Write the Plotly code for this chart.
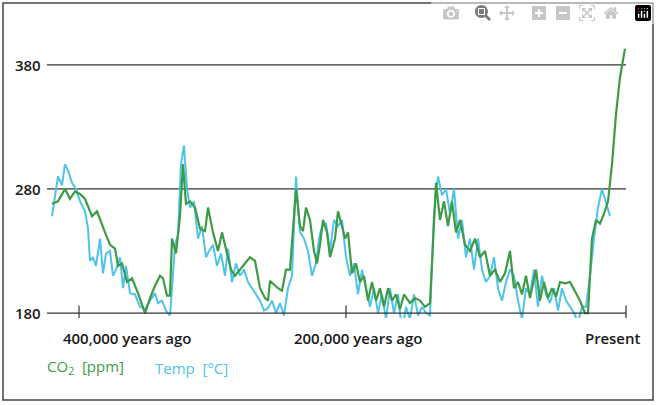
import plotly.graph_objects as go

# pixel readings from the reference: (x pixel, ppm). x pixel -> kyr before present
co2_px = [52,58,65,70,75,80,85,92,97,100,105,110,115,118,122,127,132,138,145,150,155,160,163,167,170,172,176,180,183,186,190,195,200,205,208,213,218,222,226,231,235,240,245,250,255,260,265,268,270,274,278,282,286,290,296,300,303,306,310,314,317,320,323,327,330,335,338,342,345,348,352,356,360,364,368,372,376,380,384,388,392,396,400,404,410,415,420,425,430,436,440,444,448,452,456,460,465,470,475,480,485,490,495,500,505,510,514,518,522,526,530,536,540,544,548,552,556,560,565,570,575,580,585,588,592,596,600,604,608,612,616,620,625]
co2_ppm = [268,270,280,272,278,276,272,258,262,255,245,235,232,218,220,205,208,196,180,192,202,210,208,194,194,240,228,258,300,268,270,265,248,246,265,245,230,245,232,215,210,215,220,225,222,200,192,190,206,203,200,198,215,215,280,250,246,265,255,230,220,235,255,245,225,240,262,250,240,245,212,220,205,210,190,205,190,200,185,200,190,195,183,195,188,192,190,185,188,285,255,270,250,270,245,255,235,230,240,225,230,210,215,205,212,230,200,205,195,210,192,215,190,205,192,200,193,205,204,205,198,190,180,180,240,255,252,260,270,300,340,370,393]

temp_px = [52,55,58,62,65,68,72,76,80,85,88,90,93,96,100,103,106,110,113,116,120,123,126,130,135,140,145,150,155,158,162,166,170,172,175,178,181,184,187,190,194,198,202,206,209,213,217,221,225,228,232,236,240,244,248,252,256,260,264,268,272,276,280,284,288,292,296,300,304,308,312,316,319,322,326,330,334,338,342,346,350,354,358,362,366,370,374,378,382,386,390,394,398,402,406,410,414,418,422,426,430,434,438,442,446,450,454,458,462,466,470,474,478,482,486,490,494,498,502,506,510,514,518,522,526,530,534,538,542,546,550,554,558,562,566,570,574,578,582,586,590,594,598,602,606,610]
temp_val = [258,275,290,283,300,295,285,280,270,262,248,222,225,218,240,212,228,230,210,215,225,200,218,196,195,185,183,190,196,188,190,182,178,200,235,243,300,315,280,265,270,240,250,225,230,235,218,228,210,232,205,220,210,215,205,200,195,190,182,184,190,180,188,178,200,210,290,245,240,230,210,220,240,250,252,230,255,250,255,225,210,220,195,215,200,185,200,180,195,175,200,180,195,165,185,175,195,178,185,180,178,260,290,275,280,260,280,240,255,225,240,215,240,215,205,210,225,200,190,205,215,210,190,175,200,195,215,185,210,195,188,200,182,200,190,185,180,172,185,185,210,240,265,280,268,258]

tick_px = [79, 346, 626]
tick_labels = ["400,000 years ago", "200,000 years ago", "Present"]

PX_PER_KYR = 1.335
def to_kyr(p):
    return (626 - p) / PX_PER_KYR

co2_x = [to_kyr(p) for p in co2_px]
temp_x = [to_kyr(p) for p in temp_px]
tick_x = [to_kyr(p) for p in tick_px]

green = "#3d9b45"
blue = "#4fc3ea"

fig = go.Figure()
fig.add_trace(go.Scatter(x=temp_x, y=temp_val, mode="lines", line=dict(color=blue, width=2)))
fig.add_trace(go.Scatter(x=co2_x, y=co2_ppm, mode="lines", line=dict(color=green, width=2.2)))

xmax = to_kyr(47)
xmin = to_kyr(630)
for yv in [280, 380]:
    fig.add_shape(type="line", xref="x", yref="y", x0=xmax, x1=0, y0=yv, y1=yv,
                  line=dict(color="#333", width=1.2), layer="below")
fig.add_shape(type="line", xref="x", yref="y", x0=xmax, x1=0, y0=180, y1=180,
              line=dict(color="#333", width=1.2))
for tx in tick_x:
    fig.add_shape(type="line", xref="x", yref="y", x0=tx, x1=tx, y0=174, y1=186,
                  line=dict(color="#333", width=1.2))

lab_font = dict(size=15, color="#1a1a1a", family="Open Sans Semibold, Open Sans, sans-serif")
annotations = []
for yv in [180, 280, 380]:
    annotations.append(dict(x=xmax, y=yv, xref="x", yref="y", text=str(yv), showarrow=False,
                            xanchor="right", xshift=-4, font=lab_font))
offsets = [48, 12, -13]
for tx, lab, off in zip(tick_x, tick_labels, offsets):
    annotations.append(dict(x=tx, y=0, xref="x", yref="paper", yshift=-32, xshift=off, text=lab,
                            showarrow=False, font=lab_font))
annotations.append(dict(x=0, y=0, xref="paper", yref="paper", xshift=-2, yshift=-62, xanchor="left",
                        text="CO<sub>2</sub>  [ppm]", showarrow=False, font=dict(size=15, color=green)))
annotations.append(dict(x=(153 - 47) / 583, y=0, xref="paper", yref="paper", yshift=-62, xanchor="left",
                        text="Temp  [°C]", showarrow=False, font=dict(size=15, color=blue)))

W, H = 657, 405
l, r, t, b = 47, 27, 40, 87
pw, ph = W - l - r, H - t - b
fig.add_shape(type="rect", xref="paper", yref="paper",
              x0=(3 - l) / pw, x1=(653 - l) / pw, y0=(H - b - 400) / ph, y1=(H - b - 3) / ph,
              line=dict(color="#444", width=1.5))

fig.update_layout(
    width=W, height=H, margin=dict(l=l, r=r, t=t, b=b),
    paper_bgcolor="white", plot_bgcolor="white", showlegend=False,
    font=dict(family="Open Sans, sans-serif"),
    annotations=annotations,
    xaxis=dict(range=[xmax, xmin], visible=False),
    yaxis=dict(range=[176, 400], visible=False),
)
fig.write_html("out.html", post_script="document.body.style.margin='0';")
